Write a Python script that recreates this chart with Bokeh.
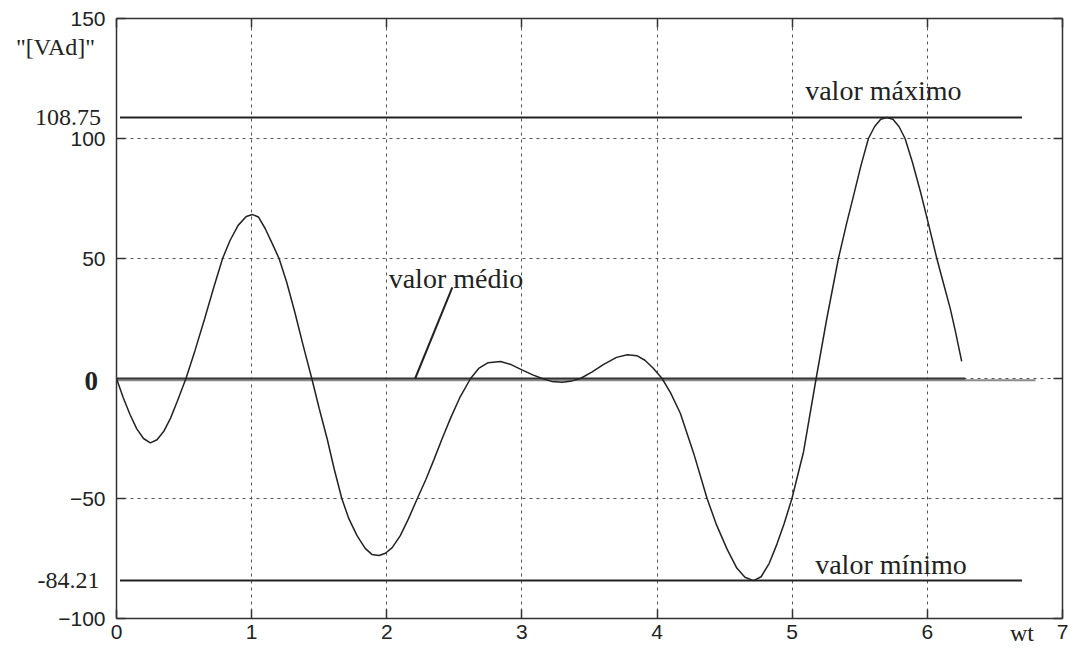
from bokeh.plotting import figure
from bokeh.models import Range1d, FixedTicker, LinearAxis, Label, Grid
from bokeh.embed import file_html
from bokeh.resources import INLINE

# Instantaneous power over one period, wt in rad
wt = [0.00, 0.05, 0.10, 0.15, 0.20, 0.25, 0.30, 0.35, 0.40, 0.45, 0.514,
      0.58, 0.65, 0.72, 0.785, 0.84, 0.90, 0.96, 1.007, 1.05, 1.10, 1.15,
      1.203, 1.26, 1.32, 1.38, 1.445, 1.50, 1.56, 1.61, 1.667, 1.72, 1.78,
      1.84, 1.89, 1.943, 1.99, 2.04, 2.10, 2.16, 2.226, 2.29, 2.349, 2.41,
      2.472, 2.54, 2.62, 2.68, 2.75, 2.842, 2.92, 3.00, 3.08, 3.15, 3.22,
      3.298, 3.37, 3.433, 3.52, 3.605, 3.70, 3.78, 3.85, 3.91, 3.97, 4.037,
      4.10, 4.172, 4.27, 4.37, 4.44, 4.517, 4.59, 4.65, 4.714, 4.77, 4.83,
      4.887, 4.94, 4.998, 5.084, 5.177, 5.256, 5.342, 5.40, 5.453, 5.51,
      5.564, 5.61, 5.655, 5.70, 5.745, 5.79, 5.835, 5.89, 5.95, 6.01, 6.07,
      6.12, 6.17, 6.21, 6.254]
power = [0.0, -8.0, -15.0, -21.0, -25.0, -26.8, -25.5, -22.0, -16.5, -9.5, 0.0,
         11.5, 24.5, 38.0, 50.0, 57.5, 63.8, 67.5, 68.3, 67.3, 62.5, 56.5,
         50.0, 40.0, 27.5, 14.0, 0.0, -12.5, -25.4, -37.5, -50.0, -58.5, -65.5,
         -70.8, -73.3, -73.75, -72.8, -70.5, -65.5, -58.5, -50.0, -42.0, -33.8, -25.0,
         -16.5, -8.0, 0.0, 4.2, 6.6, 7.1, 5.8, 3.6, 1.5, 0.0, -1.2,
         -1.6, -1.0, 0.0, 2.8, 5.9, 8.8, 9.9, 9.5, 7.6, 4.4, 0.0,
         -6.0, -14.5, -31.0, -50.0, -61.0, -71.0, -79.0, -82.8, -84.21, -82.6, -77.0,
         -69.0, -60.5, -50.0, -30.5, 0.0, 25.0, 50.0, 64.0, 76.0, 89.0,
         100.0, 105.0, 108.0, 108.75, 108.0, 105.0, 100.0, 90.0, 77.6, 64.0, 50.0,
         39.5, 29.0, 19.0, 7.1]

valor_maximo = 108.75
valor_minimo = -84.21
valor_medio = -0.7
ref_span = [0.026, 6.70]      # extent of the max / min reference lines
medio_span = [0.0, 6.80]
zero_span = [0.0, 6.28]

x_ticks = [0, 1, 2, 3, 4, 5, 6, 7]
y_ticks = [-100, -50, 0, 50, 100, 150]
y_label_ticks = [-100, -50, 50, 100, 150]   # zero gets its own bold label
X_MIN, X_MAX = 0, 7
Y_MIN, Y_MAX = -100, 150

# canvas geometry: the box [0,7]x[-100,150] sits at these pixel edges
W, H = 1071, 652
BOX_L, BOX_R, BOX_T, BOX_B = 116, 1062, 18, 618
sx = (BOX_R - BOX_L) / (X_MAX - X_MIN)
sy = (BOX_B - BOX_T) / (Y_MAX - Y_MIN)
x_range = Range1d(X_MIN - BOX_L / sx, X_MAX + (W - BOX_R) / sx)
y_range = Range1d(Y_MIN - (H - BOX_B) / sy, Y_MAX + BOX_T / sy)

SERIF = "Liberation Serif"
SANS = "Liberation Sans"
INK = "#222222"
FRAME = "#333333"

p = figure(width=W, height=H, x_range=x_range, y_range=y_range,
           output_backend="svg", toolbar_location=None,
           min_border=0, x_axis_location=None, y_axis_location=None)
p.outline_line_color = None
p.background_fill_color = "white"
p.border_fill_color = "white"
p.grid.visible = False


def make_axis(ticks, location, bounds, show_labels):
    ax = LinearAxis(ticker=FixedTicker(ticks=ticks), fixed_location=location,
                    bounds=bounds)
    ax.major_tick_in = 9
    ax.major_tick_out = 0
    ax.major_tick_line_color = FRAME
    ax.major_tick_line_width = 1.5
    ax.minor_tick_line_color = None
    ax.axis_line_color = FRAME
    ax.axis_line_width = 1.5
    if show_labels:
        ax.major_label_text_font = SANS
        ax.major_label_text_font_size = "21px"
        ax.major_label_text_color = INK
        ax.major_label_standoff = 8
    else:
        # tick marks only on the top and right edges of the box
        ax.major_label_text_color = None
        ax.major_label_standoff = 0
    return ax


# dotted grid inside the box
grid_ticks_x = FixedTicker(ticks=x_ticks[1:-1])
grid_ticks_y = FixedTicker(ticks=y_ticks[1:-1])
xg = Grid(dimension=0, ticker=grid_ticks_x, grid_line_color="#555555",
          grid_line_dash="3 4", grid_line_width=1)
yg = Grid(dimension=1, ticker=grid_ticks_y, grid_line_color="#555555",
          grid_line_dash="3 4", grid_line_width=1)
try:
    xg.cross_bounds = (Y_MIN, Y_MAX)
    yg.cross_bounds = (X_MIN, X_MAX)
    p.add_layout(xg)
    p.add_layout(yg)
except AttributeError:
    p.segment(x0=x_ticks[1:-1], x1=x_ticks[1:-1], y0=Y_MIN, y1=Y_MAX,
              line_color="#555555", line_dash="3 4", line_width=1)
    p.segment(x0=X_MIN, x1=X_MAX, y0=y_ticks[1:-1], y1=y_ticks[1:-1],
              line_color="#555555", line_dash="3 4", line_width=1)

xb = make_axis(x_ticks, Y_MIN, (X_MIN, X_MAX), True)
xb.major_label_standoff = 6
yl = make_axis(y_label_ticks, X_MIN, (Y_MIN, Y_MAX), True)
yl.major_label_overrides = {-50: "\u221250", -100: "\u2212100"}
yl.major_label_standoff = 11
xt = make_axis(x_ticks, Y_MAX, (X_MIN, X_MAX), False)
yr = make_axis(y_ticks, X_MAX, (Y_MIN, Y_MAX), False)
p.add_layout(xb, "below")
p.add_layout(yl, "left")
p.add_layout(xt, "above")
p.add_layout(yr, "right")

# reference lines
p.line(medio_span, [valor_medio, valor_medio], line_color="#8a8a8a", line_width=2)
p.line(zero_span, [0, 0], line_color=FRAME, line_width=2)
p.line(ref_span, [valor_maximo, valor_maximo], line_color=INK, line_width=2)
p.line(ref_span, [valor_minimo, valor_minimo], line_color=INK, line_width=2)

# power curve
p.line(wt, power, line_color=INK, line_width=1.5)

# pointer to the mean line
p.line([2.21, 2.485], [0, 38.0], line_color=INK, line_width=2)

for txt, x, y in (("valor médio", 2.014, 41.5),
                  ("valor máximo", 5.096, 119.8),
                  ("valor mínimo", 5.17, -77.6)):
    p.add_layout(Label(x=x, y=y, text=txt, text_font=SERIF, text_font_size="28px",
                       text_color=INK, text_baseline="alphabetic"))

# special labels on the value axis
p.add_layout(Label(x=-0.115, y=valor_maximo, text="108.75", text_font=SERIF,
                   text_font_size="24px", text_color=INK, text_align="right",
                   text_baseline="middle"))
p.add_layout(Label(x=-0.125, y=valor_minimo, text="-84.21", text_font=SERIF,
                   text_font_size="24px", text_color=INK, text_align="right",
                   text_baseline="middle"))
p.add_layout(Label(x=-0.137, y=-1.0, text="0", text_font=SERIF, text_font_style="bold",
                   text_font_size="27px", text_color=INK, text_align="right",
                   text_baseline="middle"))
p.add_layout(Label(x=-0.158, y=138.0, text='"[VAd]"', text_font=SERIF,
                   text_font_size="24px", text_color=INK, text_align="right",
                   text_baseline="middle"))
p.add_layout(Label(x=6.70, y=-106.0, text="wt", text_font=SERIF,
                   text_font_size="24px", text_color=INK, text_align="center",
                   text_baseline="middle"))

open("out.html", "w").write(file_html(p, INLINE))
